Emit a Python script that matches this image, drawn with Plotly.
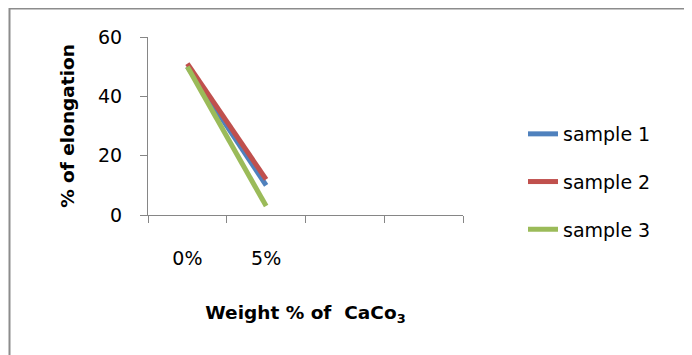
import plotly.graph_objects as go

categories = ["0%", "5%", " ", "  "]
x_values = ["0%", "5%"]
sample1 = [50, 10]
sample2 = [51, 12]
sample3 = [50, 3]
series_names = ["sample 1", "sample 2", "sample 3"]
colors = ["#4F81BD", "#C0504D", "#9BBB59"]
y_ticks = [0, 20, 40, 60]

FONT = "DejaVu Sans"
OFF = 8  # default page body margin
W, H = 692 - OFF, 355 - OFF
L, R, T, B = 148 - OFF, 229, 37 - OFF, 140
pw, ph = W - L - R, H - T - B

fig = go.Figure()
for name, vals, c in zip(series_names, [sample1, sample2, sample3], colors):
    fig.add_trace(go.Scatter(x=x_values, y=vals, mode="lines", name=name,
                             legendgroup=name,
                             line=dict(color=c, width=5)))

axis_col = "#868686"
fig.update_layout(
    width=W, height=H,
    margin=dict(l=L, r=R, t=T, b=B, pad=0, autoexpand=False),
    paper_bgcolor="white", plot_bgcolor="white",
    font=dict(family=FONT, size=19, color="black"),
    showlegend=True,
    legend=dict(x=(523 - 148) / pw, y=(215 - 115) / ph, xanchor="left", yanchor="top",
                font=dict(size=19), tracegroupgap=20, bgcolor="rgba(0,0,0,0)",
                itemwidth=30),
    xaxis=dict(type="category", categoryorder="array", categoryarray=categories,
               range=[-0.5, 3.5], tickson="boundaries", ticks="outside", ticklen=7,
               tickcolor=axis_col, tickwidth=1, showline=True, linecolor=axis_col,
               linewidth=1, showgrid=False, zeroline=False, ticklabelstandoff=26,
               tickfont=dict(size=19), automargin=False,
               title=dict(text="<b>Weight % of  CaCo<sub>3</sub></b>", font=dict(size=18.5),
                          standoff=38)),
    yaxis=dict(range=[0, 60], tickvals=y_ticks, ticks="outside", ticklen=7,
               tickcolor=axis_col, tickwidth=1, showline=True, linecolor=axis_col,
               linewidth=1, showgrid=False, zeroline=False, ticklabelstandoff=14,
               tickfont=dict(size=19), automargin=False,
               title=dict(text="<b>% of elongation</b>", font=dict(size=18.5), standoff=18)),
    shapes=[dict(type="rect", xref="paper", yref="paper",
                 x0=(9.5 - 148) / pw, x1=(685.5 - 148) / pw,
                 y0=(215 - 370) / ph, y1=(215 - 8.5) / ph,
                 line=dict(color="#8C8C8C", width=2), fillcolor="rgba(0,0,0,0)",
                 layer="below")],
)

fig.write_html("out.html")
